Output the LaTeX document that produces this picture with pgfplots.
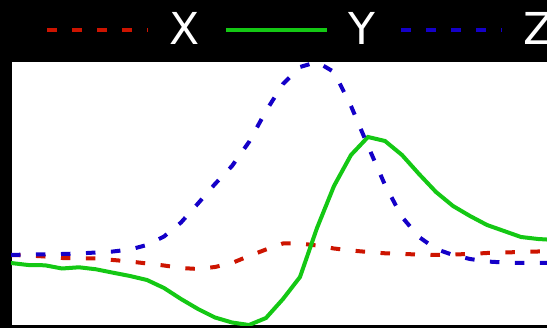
\documentclass[border=0pt]{standalone}
\usepackage{fontspec}
\setmainfont{DejaVu Sans}
\usepackage{pgfplots}
\pgfplotsset{compat=1.18}
\definecolor{cx}{RGB}{205,20,0}
\definecolor{cy}{RGB}{20,200,20}
\definecolor{cz}{RGB}{20,0,200}

\begin{document}
\begin{tikzpicture}
\useasboundingbox (0,0) rectangle (547pt,328pt);
\clip (0,0) rectangle (547pt,328pt);
\fill[black] (0,0) rectangle (547pt,328pt);
\begin{axis}[
    at={(11pt,2pt)}, anchor=south west,
    scale only axis,
    width=561pt, height=264pt,
    xmin=0, xmax=33, ymin=0, ymax=264,
    xtick=\empty, ytick=\empty,
    axis background/.style={fill=white},
    axis line style={black, line width=1pt},
    every axis plot/.append style={line width=4pt},
    legend columns=3,
    legend image code/.code={\draw[#1] (0pt,0pt) -- (101pt,0pt);},
    legend style={
        at={(0.0606,1.1225)}, anchor=west,
        draw=none, fill=black, text=white,
        font=\fontsize{44}{44}\selectfont,
        inner xsep=0pt, inner ysep=0pt,
        nodes={inner xsep=0pt, inner ysep=0pt},
        /tikz/every odd column/.append style={column sep=19.5pt},
        /tikz/every even column/.append style={column sep=24pt},
    },
]
\addplot[cx, dash pattern=on 9.5pt off 15.5pt] coordinates {
    (0,71) (1,70.5) (2,69.5) (3,68) (4,67.7) (5,67.5) (6,66) (7,64.5)
    (8,62.5) (9,60.5) (10,58) (11,57) (12,59) (13,63) (14,70) (15,76.5)
    (16,82.5) (17,82.5) (18,80.5) (19,77.5) (20,75.5) (21,74) (22,72.7)
    (23,72) (24,71.5) (25,71) (26,71.5) (27,72) (28,73) (29,73.5) (30,74)
    (31,74.5) (32,74.5)
};
\addlegendentry{X}
\addplot[cy] coordinates {
    (0,63) (1,61) (2,60.7) (3,57.5) (4,58.7) (5,56.7) (6,53.3) (7,50)
    (8,46) (9,38) (10,27) (11,17) (12,8.5) (13,3.5) (14,1) (15,8)
    (16,27) (17,49) (18,98) (19,140) (20,171) (21,189) (22,185)
    (23,171) (24,152) (25,134) (26,120) (27,110) (28,101) (29,95) (30,89)
    (31,87) (32,86)
};
\addlegendentry{Y}
\addplot[cz, dash pattern=on 9.5pt off 15.5pt] coordinates {
    (0,71) (1,71.5) (2,71.7) (3,72) (4,72.5) (5,73.5) (6,74.5) (7,76.5)
    (8,81) (9,89.5) (10,103.5) (11,122.5) (12,142) (13,160) (14,184) (15,215)
    (16,242) (17,259) (18,264) (19,254) (20,220) (21,180) (22,141)
    (23,109) (24,89) (25,77) (26,71) (27,67) (28,64.5) (29,63.5) (30,63)
    (31,63) (32,63)
};
\addlegendentry{Z}
\end{axis}
\end{tikzpicture}
\end{document}
